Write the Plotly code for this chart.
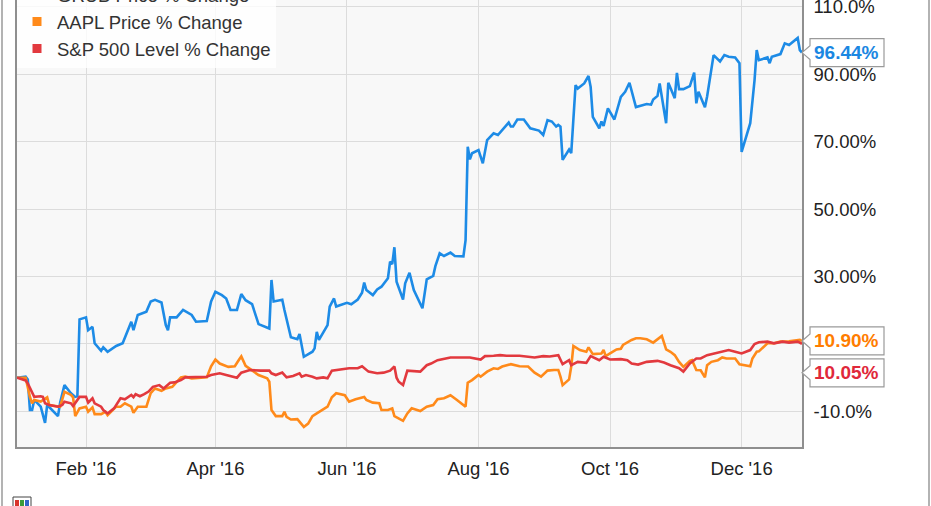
import plotly.graph_objects as go

# ---------------- data ----------------
blue_dates = ["2015-12-31","2016-01-04","2016-01-05","2016-01-06","2016-01-07","2016-01-08","2016-01-11","2016-01-13",
 "2016-01-14","2016-01-19","2016-01-20","2016-01-22","2016-01-25","2016-01-27","2016-01-28","2016-01-29","2016-02-01",
 "2016-02-02","2016-02-04","2016-02-05","2016-02-08","2016-02-09","2016-02-11","2016-02-15","2016-02-18","2016-02-20",
 "2016-02-22","2016-02-23","2016-02-25","2016-02-29","2016-03-02","2016-03-04","2016-03-07","2016-03-09","2016-03-10",
 "2016-03-11","2016-03-14","2016-03-17","2016-03-21","2016-03-23","2016-03-28","2016-03-30","2016-04-01","2016-04-04",
 "2016-04-06","2016-04-08","2016-04-11","2016-04-13","2016-04-15","2016-04-18","2016-04-21","2016-04-26","2016-04-27",
 "2016-04-28","2016-05-02","2016-05-03","2016-05-06","2016-05-09","2016-05-10","2016-05-12","2016-05-16","2016-05-17",
 "2016-05-18","2016-05-19","2016-05-23","2016-05-24","2016-05-26","2016-05-27","2016-06-01","2016-06-03","2016-06-06",
 "2016-06-08","2016-06-09","2016-06-10","2016-06-13","2016-06-15","2016-06-17","2016-06-20","2016-06-21","2016-06-22",
 "2016-06-23","2016-06-24","2016-06-27","2016-06-28","2016-06-30","2016-07-02","2016-07-06","2016-07-08","2016-07-11",
 "2016-07-12","2016-07-14","2016-07-16","2016-07-19","2016-07-21","2016-07-25","2016-07-26","2016-07-27","2016-07-28",
 "2016-07-29","2016-08-01","2016-08-03","2016-08-05","2016-08-08","2016-08-10","2016-08-12","2016-08-15","2016-08-16",
 "2016-08-17","2016-08-19","2016-08-22","2016-08-25","2016-08-29","2016-08-31","2016-09-02","2016-09-04","2016-09-06",
 "2016-09-07","2016-09-08","2016-09-09","2016-09-12","2016-09-13","2016-09-14","2016-09-15","2016-09-16","2016-09-19",
 "2016-09-21","2016-09-22","2016-09-23","2016-09-26","2016-09-27","2016-09-28","2016-09-30","2016-10-03","2016-10-06",
 "2016-10-08","2016-10-10","2016-10-12","2016-10-13","2016-10-18","2016-10-20","2016-10-21","2016-10-23","2016-10-24",
 "2016-10-27","2016-10-28","2016-10-31","2016-11-01","2016-11-02","2016-11-04","2016-11-07","2016-11-09","2016-11-10",
 "2016-11-11","2016-11-14","2016-11-15","2016-11-18","2016-11-21","2016-11-23","2016-11-25","2016-11-28","2016-11-30",
 "2016-12-01","2016-12-05","2016-12-07","2016-12-08","2016-12-09","2016-12-13","2016-12-14","2016-12-15","2016-12-19",
 "2016-12-21","2016-12-23","2016-12-27","2016-12-28","2016-12-29"]
blue_vals = [0, 0.3, -0.5, -9.6, -9.6, -6.6, -8.6, -13.4,
 -8.1, -11.4, -7.4, -2.2, -4.6, -5.7, -5.5, 17.3, 17.9,
 14.1, 15.1, 10.2, 8.0, 9.0, 7.7, 9.4, 10.2, 13.2,
 16.6, 14.1, 18.6, 19.6, 22.6, 23.1, 22.3, 15.6, 14.1,
 17.9, 17.9, 20.1, 18.6, 16.6, 16.8, 22.6, 25.5, 24.5,
 23.5, 20.1, 20.1, 24.8, 23.0, 21.8, 15.9, 14.6, 29.0,
 22.6, 23.1, 20.1, 12.0, 11.4, 13.0, 6.2, 7.7, 8.7,
 13.6, 11.2, 15.6, 21.1, 23.5, 21.1, 22.2, 21.8, 23.2,
 25.2, 28.2, 26.0, 24.5, 26.2, 27.0, 29.5, 34.4, 33.7,
 38.7, 28.5, 23.2, 28.0, 31.1, 26.0, 20.6, 29.2, 30.2,
 33.1, 36.9, 36.1, 37.1, 36.1, 36.0, 40.8, 68.5, 64.8,
 66.6, 67.5, 63.6, 70.5, 72.5, 72.0, 73.5, 75.7, 74.5,
 74.5, 76.6, 76.6, 74.0, 73.3, 72.0, 76.4, 76.0, 74.5,
 75.0, 74.5, 64.6, 67.7, 66.6, 76.4, 86.8, 85.8, 87.3,
 89.5, 86.3, 77.4, 74.0, 76.0, 74.7, 79.9, 76.6, 83.3,
 84.8, 87.5, 82.9, 80.3, 81.2, 81.0, 82.5, 83.6, 87.3,
 75.5, 87.5, 82.9, 90.4, 85.6, 85.6, 86.5, 90.5, 81.4,
 84.8, 80.2, 83.4, 95.7, 93.8, 95.7, 95.2, 95.0, 93.3,
 67.0, 75.5, 88.3, 97.2, 94.2, 95.0, 93.3, 95.2, 96.0,
 99.2, 98.7, 100.8, 97.2, 96.44]

aapl_dates = ["2015-12-31","2016-01-04","2016-01-06","2016-01-07","2016-01-08","2016-01-11","2016-01-14","2016-01-15",
 "2016-01-20","2016-01-22","2016-01-25","2016-01-26","2016-01-27","2016-01-29","2016-02-01","2016-02-02","2016-02-04",
 "2016-02-05","2016-02-08","2016-02-10","2016-02-11","2016-02-15","2016-02-17","2016-02-19","2016-02-22","2016-02-23",
 "2016-02-25","2016-02-29","2016-03-02","2016-03-04","2016-03-07","2016-03-09","2016-03-12","2016-03-16","2016-03-18",
 "2016-03-21","2016-03-28","2016-03-30","2016-04-01","2016-04-03","2016-04-07","2016-04-10","2016-04-12","2016-04-13",
 "2016-04-15","2016-04-19","2016-04-21","2016-04-25","2016-04-26","2016-04-27","2016-04-29","2016-05-02","2016-05-03",
 "2016-05-04","2016-05-06","2016-05-09","2016-05-10","2016-05-12","2016-05-14","2016-05-16","2016-05-18","2016-05-20",
 "2016-05-23","2016-05-25","2016-05-27","2016-05-31","2016-06-02","2016-06-05","2016-06-09","2016-06-10","2016-06-13",
 "2016-06-16","2016-06-17","2016-06-20","2016-06-22","2016-06-23","2016-06-27","2016-06-29","2016-07-01","2016-07-05",
 "2016-07-08","2016-07-11","2016-07-13","2016-07-16","2016-07-19","2016-07-22","2016-07-26","2016-07-27","2016-07-29",
 "2016-08-01","2016-08-02","2016-08-05","2016-08-08","2016-08-10","2016-08-12","2016-08-16","2016-08-20","2016-08-24",
 "2016-08-27","2016-08-30","2016-09-02","2016-09-05","2016-09-07","2016-09-08","2016-09-09","2016-09-12","2016-09-13",
 "2016-09-14","2016-09-17","2016-09-20","2016-09-21","2016-09-23","2016-09-27","2016-09-28","2016-09-29","2016-10-01",
 "2016-10-04","2016-10-06","2016-10-07","2016-10-11","2016-10-13","2016-10-15","2016-10-18","2016-10-21","2016-10-25",
 "2016-10-27","2016-10-29","2016-10-31","2016-11-02","2016-11-04","2016-11-07","2016-11-08","2016-11-10","2016-11-12",
 "2016-11-14","2016-11-15","2016-11-17","2016-11-20","2016-11-22","2016-11-24","2016-11-28","2016-11-30","2016-12-02",
 "2016-12-05","2016-12-06","2016-12-08","2016-12-09","2016-12-13","2016-12-16","2016-12-19","2016-12-23","2016-12-27",
 "2016-12-28","2016-12-29"]
aapl_vals = [0, 0, -5.7, -7.6, -6.6, -7.1, -5.8, -8.1,
 -8.6, -4.2, -5.1, -5.8, -11.4, -9.1, -8.6, -10.1, -8.8,
 -10.8, -10.8, -10.1, -11.1, -8.6, -8.6, -7.6, -8.6, -10.4,
 -8.6, -8.6, -4.6, -3.2, -3.9, -3.2, -2.7, 0.1, 0.3,
 -0.2, 0.1, 3.4, 5.4, 4.2, 3.2, 3.4, 5.4, 6.3,
 3.5, 1.8, 0.8, -0.2, -1.2, -9.6, -11.4, -11.4, -10.1,
 -11.6, -12.4, -12.3, -13.1, -14.6, -13.6, -11.4, -10.6, -9.8,
 -8.6, -5.8, -4.6, -5.2, -7.1, -6.4, -5.7, -6.6, -7.4,
 -7.6, -9.6, -9.6, -9.1, -11.4, -12.8, -10.6, -9.1, -9.9,
 -8.6, -8.1, -6.4, -6.1, -5.2, -6.6, -8.6, -1.5, -0.7,
 0.8, 0.3, 1.8, 2.8, 2.6, 3.3, 4.0, 3.4, 3.3,
 1.5, 0.3, 2.1, 2.3, 2.3, 0.3, -2.2, -0.5, 3.3,
 9.4, 8.2, 7.7, 9.0, 7.0, 7.2, 8.2, 6.4, 7.2,
 8.4, 8.6, 9.7, 11.2, 11.7, 11.7, 11.4, 10.4, 12.4,
 8.4, 7.7, 6.7, 4.7, 3.2, 5.0, 5.2, 2.3, 2.2,
 0.1, 3.7, 4.7, 5.2, 6.0, 5.7, 5.7, 4.0, 3.7,
 3.4, 5.7, 7.7, 7.8, 10.2, 10.2, 10.7, 10.8, 11.0,
 11.2, 10.90]

spx_dates = ["2015-12-31","2016-01-04","2016-01-05","2016-01-06","2016-01-07","2016-01-08","2016-01-11","2016-01-12",
 "2016-01-13","2016-01-15","2016-01-19","2016-01-21","2016-01-22","2016-01-25","2016-01-26","2016-01-29","2016-02-01",
 "2016-02-02","2016-02-04","2016-02-05","2016-02-08","2016-02-09","2016-02-11","2016-02-14","2016-02-17","2016-02-19",
 "2016-02-22","2016-02-23","2016-02-24","2016-02-26","2016-02-28","2016-03-01","2016-03-03","2016-03-06","2016-03-08",
 "2016-03-11","2016-03-13","2016-03-16","2016-03-18","2016-03-22","2016-03-25","2016-03-28","2016-03-30","2016-04-03",
 "2016-04-06","2016-04-09","2016-04-11","2016-04-13","2016-04-17","2016-04-22","2016-04-26","2016-04-27","2016-04-29",
 "2016-05-02","2016-05-04","2016-05-07","2016-05-10","2016-05-11","2016-05-13","2016-05-16","2016-05-18","2016-05-21",
 "2016-05-23","2016-05-25","2016-05-29","2016-06-02","2016-06-06","2016-06-08","2016-06-11","2016-06-15","2016-06-18",
 "2016-06-21","2016-06-23","2016-06-24","2016-06-25","2016-06-27","2016-06-29","2016-07-01","2016-07-05","2016-07-08",
 "2016-07-10","2016-07-13","2016-07-17","2016-07-19","2016-07-24","2016-07-28","2016-08-02","2016-08-04","2016-08-08",
 "2016-08-11","2016-08-14","2016-08-17","2016-08-20","2016-08-27","2016-08-31","2016-09-03","2016-09-07","2016-09-09",
 "2016-09-12","2016-09-13","2016-09-16","2016-09-20","2016-09-22","2016-09-26","2016-09-28","2016-10-01","2016-10-06",
 "2016-10-09","2016-10-11","2016-10-14","2016-10-18","2016-10-23","2016-10-26","2016-10-29","2016-11-02","2016-11-04",
 "2016-11-07","2016-11-10","2016-11-12","2016-11-15","2016-11-18","2016-11-21","2016-11-25","2016-11-28","2016-12-01",
 "2016-12-05","2016-12-07","2016-12-09","2016-12-13","2016-12-16","2016-12-20","2016-12-23","2016-12-27","2016-12-29"]
spx_vals = [0, -0.8, -1.7, -3.0, -4.6, -5.7, -5.5, -5.7,
 -7.6, -8.1, -8.6, -8.1, -7.1, -7.6, -8.4, -5.7, -5.7,
 -7.4, -6.1, -7.6, -8.6, -9.6, -10.6, -9.1, -6.1, -6.4,
 -5.1, -5.8, -4.9, -5.5, -4.9, -4.1, -2.7, -2.2, -3.2,
 -1.5, -1.4, -0.7, 0.1, 0.1, 0.3, 0.3, 0.8, 1.3,
 0.8, 0.3, 0.0, 1.5, 2.3, 2.1, 2.1, 1.3, 0.8,
 1.5, 0.1, 0.5, 1.3, 0.3, 0.8, 0.3, -0.2, 0.1,
 -0.2, 2.1, 2.5, 2.8, 2.8, 3.4, 1.8, 1.3, 1.5,
 2.1, 3.3, 0.0, -1.2, -2.2, 2.1, 2.0, 1.8, 3.7,
 4.2, 5.2, 5.7, 6.0, 6.0, 6.0, 5.4, 6.4, 6.5,
 6.7, 6.5, 6.4, 6.5, 6.0, 6.4, 6.3, 6.7, 4.0,
 5.2, 3.7, 4.7, 4.4, 6.4, 5.2, 6.2, 5.4, 5.5,
 5.2, 4.2, 3.9, 4.7, 5.0, 4.5, 3.7, 2.8, 1.8,
 4.2, 5.7, 5.7, 6.7, 7.2, 7.7, 8.2, 7.7, 7.2,
 8.2, 10.0, 10.5, 10.7, 10.2, 10.7, 10.4, 10.7, 10.05]

series_names = ["GRUB Price % Change", "AAPL Price % Change", "S&P 500 Level % Change"]
line_colors = ["#1d8be6", "#ff8a1a", "#e2393e"]
label_colors = ["#1b87e2", "#ff7d00", "#e0283a"]

x_tick_vals = ["2016-02-01", "2016-04-01", "2016-06-01", "2016-08-01", "2016-10-01", "2016-12-01"]
x_tick_text = ["Feb '16", "Apr '16", "Jun '16", "Aug '16", "Oct '16", "Dec '16"]
y_tick_vals = [-10, 10, 30, 50, 70, 90, 110]
y_tick_text = ["-10.0%", "", "30.00%", "50.00%", "70.00%", "90.00%", "110.0%"]

# ---------------- figure ----------------
W, H = 931, 506
ML, MR, MT, MB = 17, 129, 0, 59
PW, PH = W - ML - MR, H - MT - MB
FONT = "Liberation Sans, Arial, sans-serif"

def px_x(px):
    return (px - ML) / PW

def px_y(py):
    return (H - MB - py) / PH

fig = go.Figure()
all_series = [(blue_dates, blue_vals), (aapl_dates, aapl_vals), (spx_dates, spx_vals)]
for (d, v), c in zip(all_series, line_colors):
    fig.add_trace(go.Scatter(x=d, y=v, mode="lines", line=dict(color=c, width=2.6),
                             showlegend=False, hoverinfo="skip"))
for name, c in zip(series_names, line_colors):
    fig.add_trace(go.Scatter(x=[None], y=[None], mode="markers", name=name,
                             marker=dict(symbol="square", size=9, color=c)))

shapes = []
# outer frame lines
for px in (2, 929):
    shapes.append(dict(type="line", xref="paper", yref="paper", x0=px_x(px), x1=px_x(px),
                       y0=px_y(H + 2), y1=px_y(-2), line=dict(color="#9a9a9a", width=1.5)))
# small logo at bottom left
shapes.append(dict(type="rect", xref="paper", yref="paper", x0=px_x(13), x1=px_x(31),
                   y0=px_y(508), y1=px_y(497), line=dict(color="#444", width=1), fillcolor="#ffffff"))
for i, col in enumerate(["#d8342c", "#3a9a3a", "#2f64c8"]):
    shapes.append(dict(type="rect", xref="paper", yref="paper", x0=px_x(15 + 5 * i), x1=px_x(19 + 5 * i),
                       y0=px_y(508), y1=px_y(500), line=dict(width=0), fillcolor=col))

# end-value tags
annotations = []
end_vals = [blue_vals[-1], aapl_vals[-1], spx_vals[-1]]
shifts = [0, 0, -29]
for v, c, s in zip(end_vals, label_colors, shifts):
    path = (f"M 0,{s} L 8,{s + 7} L 8,{s + 14} L 82,{s + 14} L 82,{s - 14} "
            f"L 8,{s - 14} L 8,{s - 7} Z")
    shapes.append(dict(type="path", xref="paper", xsizemode="pixel", xanchor=1,
                       yref="y", ysizemode="pixel", yanchor=v, path=path,
                       fillcolor="white", line=dict(color="#9a9a9a", width=1.2), layer="above"))
    annotations.append(dict(x=1, xref="paper", xanchor="left", xshift=10, y=v, yref="y",
                            yanchor="middle", yshift=s, showarrow=False, text=f"<b>{v:.2f}%</b>",
                            font=dict(family=FONT, size=19, color=c)))

fig.update_layout(
    width=W, height=H,
    margin=dict(l=ML, r=MR, t=MT, b=MB, autoexpand=False),
    paper_bgcolor="white", plot_bgcolor="#f8f8f8",
    font=dict(family=FONT, size=18.5, color="#222"),
    showlegend=True,
    legend=dict(x=0, xanchor="left", y=1.054, yanchor="top",
                bgcolor="rgba(255,255,255,0.8)", borderwidth=0,
                font=dict(family=FONT, size=18.5, color="#333")),
    shapes=shapes, annotations=annotations,
    xaxis=dict(type="date", range=["2015-12-31", "2016-12-29"],
               tickvals=x_tick_vals, ticktext=x_tick_text,
               showgrid=True, gridcolor="#dcdcdc", gridwidth=1,
               showline=True, linecolor="#8f8f8f", linewidth=1.5,
               ticks="", zeroline=False, ticklabelstandoff=4,
               tickfont=dict(family=FONT, size=18.5, color="#222")),
    yaxis=dict(side="right", range=[-20.56, 112.05],
               tickvals=y_tick_vals, ticktext=y_tick_text,
               showgrid=True, gridcolor="#dcdcdc", gridwidth=1,
               showline=True, mirror=True, linecolor="#8f8f8f", linewidth=1.5,
               ticks="", zeroline=False, ticklabelstandoff=6, ticklabeloverflow="allow",
               tickfont=dict(family=FONT, size=18.5, color="#222")),
)

fig.write_html("out.html", config={"displayModeBar": False},
               post_script="document.body.style.margin='0';document.body.style.overflow='hidden';")
